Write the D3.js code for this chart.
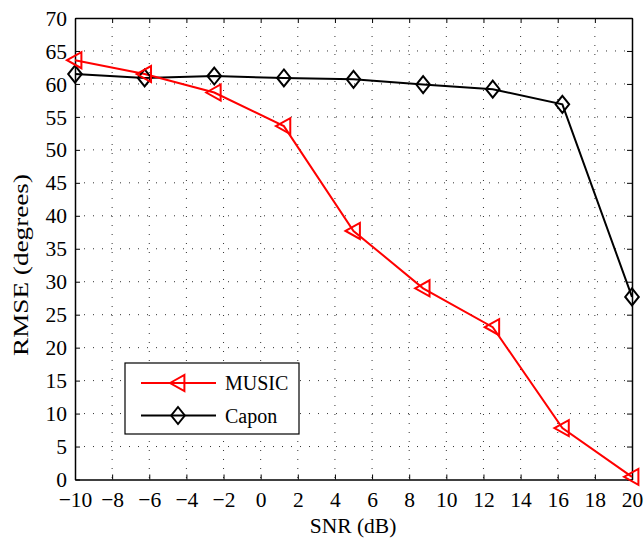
<!DOCTYPE html>
<html><head><meta charset="utf-8">
<script src="https://cdn.jsdelivr.net/npm/d3@7"></script>
<style>body{margin:0;background:#fff}svg{display:block}text{font-family:'Liberation Serif','Times New Roman',serif}</style>
</head><body>
<script>
const snr = [-10, -6.25, -2.5, 1.25, 5, 8.75, 12.5, 16.25, 20];
const music = [63.6, 61.5, 58.7, 53.6, 37.7, 29.0, 23.1, 7.8, 0.4];
const capon = [61.5, 60.9, 61.2, 60.9, 60.7, 59.9, 59.2, 56.9, 27.7];
const xTicks = [-10,-8,-6,-4,-2,0,2,4,6,8,10,12,14,16,18,20];
const yTicks = [0,5,10,15,20,25,30,35,40,45,50,55,60,65,70];
const seriesNames = ["MUSIC","Capon"];

const W=644,H=540;
const L=75,R=632,T=18,B=479.5;
const svg=d3.select("body").append("svg").attr("width",W).attr("height",H);
const x=d3.scaleLinear().domain([-10,20]).range([L,R]);
const y=d3.scaleLinear().domain([0,70]).range([B,T]);
const font="'Liberation Serif','Times New Roman',serif";
const FS=21.5;

// grid
const g=svg.append("g");
g.selectAll(".vg").data(xTicks.slice(1,-1)).enter().append("line")
 .attr("x1",d=>x(d)).attr("x2",d=>x(d)).attr("y1",T).attr("y2",B)
 .attr("stroke","#333").attr("stroke-width",1).attr("stroke-dasharray","1,8");
g.selectAll(".hg").data(yTicks.slice(1,-1)).enter().append("line")
 .attr("y1",d=>y(d)).attr("y2",d=>y(d)).attr("x1",L).attr("x2",R)
 .attr("stroke","#333").attr("stroke-width",1).attr("stroke-dasharray","1,8");

// axes
const ax=d3.axisBottom(x).tickValues(xTicks).tickSizeInner(-5).tickSizeOuter(0).tickPadding(12)
 .tickFormat(d=>d<0?"\u2212"+Math.abs(d):d);
const gx=svg.append("g").attr("transform",`translate(0,${B})`).call(ax);
const ay=d3.axisLeft(y).tickValues(yTicks).tickSizeInner(-5).tickSizeOuter(0).tickPadding(8);
const gy=svg.append("g").attr("transform",`translate(${L},0)`).call(ay);
svg.append("g").attr("transform",`translate(0,${T})`).call(d3.axisTop(x).tickValues(xTicks).tickSizeInner(-5).tickSizeOuter(0).tickFormat(""));
svg.append("g").attr("transform",`translate(${R},0)`).call(d3.axisRight(y).tickValues(yTicks).tickSizeInner(-5).tickSizeOuter(0).tickFormat(""));
svg.selectAll("g").attr("font-family",null);
svg.selectAll(".domain").attr("stroke","#000").attr("stroke-width",1.5);
svg.selectAll(".tick line").attr("stroke","#000").attr("stroke-width",1);
[gx,gy].forEach(a=>a.selectAll("text").style("font-family",font).attr("font-size",FS).attr("fill","#000"));
gy.selectAll("text").attr("dy","0.33em");
gx.selectAll("text").attr("dy","0.7em");

// labels
svg.append("text").attr("x",353).attr("y",533).attr("text-anchor","middle")
 .style("font-family",font).attr("font-size",FS).text("SNR (dB)");
svg.append("text").attr("transform",`translate(28,265) rotate(-90)`).attr("text-anchor","middle")
 .attr("textLength",182).attr("lengthAdjust","spacingAndGlyphs")
 .style("font-family",font).attr("font-size",20.5).text("RMSE (degrees)");

function tri(cx,cy,s){return `M${cx-s},${cy}L${cx+s*0.8},${cy-s}L${cx+s*0.8},${cy+s}Z`;}
function dia(cx,cy,s){return `M${cx},${cy-s}L${cx+s*0.8},${cy}L${cx},${cy+s}L${cx-s*0.8},${cy}Z`;}

const line=d3.line().x(d=>x(d[0])).y(d=>y(d[1]));
const mData=snr.map((s,i)=>[s,music[i]]), cData=snr.map((s,i)=>[s,capon[i]]);
svg.append("path").datum(cData).attr("d",line).attr("fill","none").attr("stroke","#000").attr("stroke-width",2);
svg.append("path").datum(mData).attr("d",line).attr("fill","none").attr("stroke","#ff0000").attr("stroke-width",2);
svg.selectAll(".cm").data(cData).enter().append("path").attr("d",d=>dia(x(d[0]),y(d[1]),8.5))
 .attr("fill","none").attr("stroke","#000").attr("stroke-width",2);
svg.selectAll(".mm").data(mData).enter().append("path").attr("d",d=>tri(x(d[0]),y(d[1]),8))
 .attr("fill","none").attr("stroke","#ff0000").attr("stroke-width",2);

// legend
const lg=svg.append("g");
lg.append("rect").attr("x",125).attr("y",363).attr("width",174).attr("height",71)
 .attr("fill","#fff").attr("stroke","#000").attr("stroke-width",1.2);
const cols=["#ff0000","#000"];
seriesNames.forEach((n,i)=>{
  const yy=383+i*32.5;
  lg.append("line").attr("x1",141).attr("x2",216).attr("y1",yy).attr("y2",yy).attr("stroke",cols[i]).attr("stroke-width",2);
  lg.append("path").attr("d",i==0?tri(178,yy,8):dia(178,yy,8.5)).attr("fill","none").attr("stroke",cols[i]).attr("stroke-width",2);
  lg.append("text").attr("x",225).attr("y",yy).attr("dy","0.35em").style("font-family",font).attr("font-size",20).text(n);
});
</script>
</body></html>
